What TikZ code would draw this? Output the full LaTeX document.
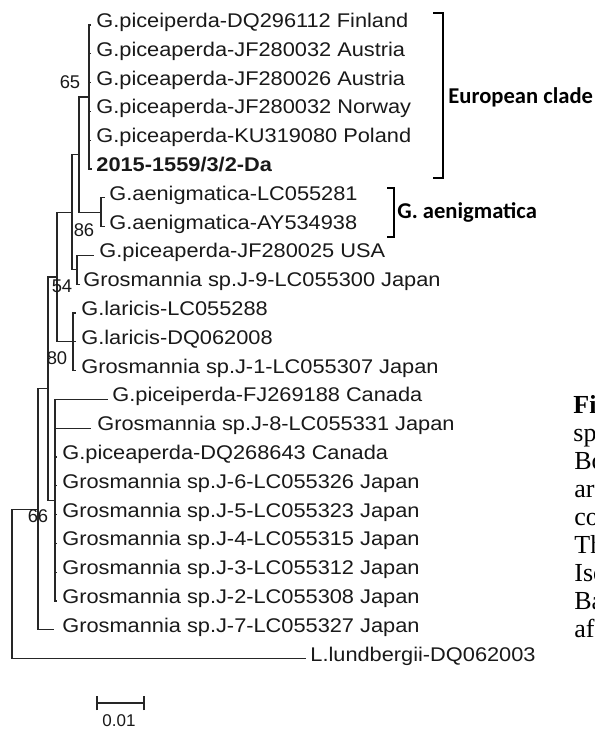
\documentclass[tikz,border=0pt]{standalone}
\usepackage{fontspec}
\newfontfamily\leaffont[FakeStretch=1.1]{Liberation Sans}
\newfontfamily\bootfont{Liberation Sans}
\newfontfamily\cladefont{Carlito}
\newfontfamily\capfont{Liberation Serif}
\begin{document}
\begin{tikzpicture}[x=0.5bp,y=-0.5bp,
  branch/.style={line width=0.65bp, black!85, line cap=rect},
  leaf/.style={anchor=base west, inner sep=0pt, text=black!90, font=\leaffont\fontsize{9.9bp}{12bp}\selectfont},
  boot/.style={inner sep=0pt, text=black!90, font=\bootfont\fontsize{9.2bp}{11bp}\selectfont},
  clade/.style={anchor=west, inner sep=0pt, font=\cladefont\bfseries\fontsize{11.3bp}{13bp}\selectfont},
  capt/.style={anchor=base west, inner sep=0pt, font=\capfont\fontsize{13bp}{15bp}\selectfont},
  bracket/.style={line width=0.65bp, black}]
\useasboundingbox (0,0) rectangle (595,731);
\fill[white] (0,0) rectangle (595,731);

% internal nodes
\coordinate (nR) at (12,584);
\coordinate (nI) at (38,509.2);
\coordinate (nF) at (48,388.6);
\coordinate (nB) at (57,277);
\coordinate (nA) at (72,212.2);
\coordinate (nC) at (79,154.6);
\coordinate (nE) at (89,97);
\coordinate (nG) at (101,212.2);
\coordinate (nD) at (77,269.8);
\coordinate (nL) at (73,341.8);
\coordinate (nH) at (55,500.2);

% leaf tips
\coordinate (t1) at (90,25);
\coordinate (t2) at (90,53.8);
\coordinate (t3) at (90,82.6);
\coordinate (t4) at (90,111.4);
\coordinate (t5) at (90,140.2);
\coordinate (t6) at (91,169);
\coordinate (t7) at (104,197.8);
\coordinate (t8) at (104,226.6);
\coordinate (t9) at (93,255.4);
\coordinate (t10) at (79,284.2);
\coordinate (t11) at (75,313);
\coordinate (t12) at (75,341.8);
\coordinate (t13) at (75,370.6);
\coordinate (t14) at (107,399.4);
\coordinate (t15) at (90,428.2);
\coordinate (t16) at (56,457);
\coordinate (t17) at (56,485.8);
\coordinate (t18) at (56,514.6);
\coordinate (t19) at (56,543.4);
\coordinate (t20) at (56,572.2);
\coordinate (t21) at (56,601);
\coordinate (t22) at (53,629.8);
\coordinate (t23) at (305,658.6);

% leaf labels
\node[leaf] (l1) at (96,27.5) {G.piceiperda-DQ296112 Finland};
\node[leaf] (l2) at (96,56.3) {G.piceaperda-JF280032 Austria};
\node[leaf] (l3) at (96,85.1) {G.piceaperda-JF280026 Austria};
\node[leaf] (l4) at (96,113.9) {G.piceaperda-JF280032 Norway};
\node[leaf] (l5) at (96,142.7) {G.piceaperda-KU319080 Poland};
\node[leaf, font=\leaffont\bfseries\fontsize{9.9bp}{12bp}\selectfont] (l6) at (96,171.5) {2015-1559/3/2-Da};
\node[leaf] (l7) at (109,200.3) {G.aenigmatica-LC055281};
\node[leaf] (l8) at (109,229.1) {G.aenigmatica-AY534938};
\node[leaf] (l9) at (99,257.9) {G.piceaperda-JF280025 USA};
\node[leaf] (l10) at (83,286.7) {Grosmannia sp.J-9-LC055300 Japan};
\node[leaf] (l11) at (81,315.5) {G.laricis-LC055288};
\node[leaf] (l12) at (81,344.3) {G.laricis-DQ062008};
\node[leaf] (l13) at (81,373.1) {Grosmannia sp.J-1-LC055307 Japan};
\node[leaf] (l14) at (112,401.9) {G.piceiperda-FJ269188 Canada};
\node[leaf] (l15) at (97,430.7) {Grosmannia sp.J-8-LC055331 Japan};
\node[leaf] (l16) at (62,459.5) {G.piceaperda-DQ268643 Canada};
\node[leaf] (l17) at (62,488.3) {Grosmannia sp.J-6-LC055326 Japan};
\node[leaf] (l18) at (62,517.1) {Grosmannia sp.J-5-LC055323 Japan};
\node[leaf] (l19) at (62,545.9) {Grosmannia sp.J-4-LC055315 Japan};
\node[leaf] (l20) at (62,574.7) {Grosmannia sp.J-3-LC055312 Japan};
\node[leaf] (l21) at (62,603.5) {Grosmannia sp.J-2-LC055308 Japan};
\node[leaf] (l22) at (62,632.3) {Grosmannia sp.J-7-LC055327 Japan};
\node[leaf] (l23) at (310,661.1) {L.lundbergii-DQ062003};

% branches
\draw[branch] (nE) |- (t1);
\draw[branch] (nE) |- (t2);
\draw[branch] (nE) |- (t3);
\draw[branch] (nE) |- (t4);
\draw[branch] (nE) |- (t5);
\draw[branch] (nE) |- (t6);
\draw[branch] (nG) |- (t7);
\draw[branch] (nG) |- (t8);
\draw[branch] (nC) |- (nE);
\draw[branch] (nC) |- (nG);
\draw[branch] (nD) |- (t9);
\draw[branch] (nD) |- (t10);
\draw[branch] (nA) |- (nC);
\draw[branch] (nA) |- (nD);
\draw[branch] (nL) |- (t11);
\draw[branch] (nL) |- (t12);
\draw[branch] (nL) |- (t13);
\draw[branch] (nB) |- (nA);
\draw[branch] (nB) |- (nL);
\draw[branch] (nH) |- (t14);
\draw[branch] (nH) |- (t15);
\draw[branch] (nH) |- (t16);
\draw[branch] (nH) |- (t17);
\draw[branch] (nH) |- (t18);
\draw[branch] (nH) |- (t19);
\draw[branch] (nH) |- (t20);
\draw[branch] (nH) |- (t21);
\draw[branch] (nF) |- (nB);
\draw[branch] (nF) |- (nH);
\draw[branch] (nI) |- (nF);
\draw[branch] (nI) |- (t22);
\draw[branch] (nR) |- (nI);
\draw[branch] (nR) |- (t23);

% bootstrap values
\node[boot] (b65) at (70,82) {65};
\node[boot] (b86) at (84,230) {86};
\node[boot] (b54) at (62,286) {54};
\node[boot] (b80) at (57,358) {80};
\node[boot] (b66) at (38,516) {66};

% clade brackets
\coordinate (eu1) at (433,13);
\coordinate (eu2) at (443,13);
\coordinate (eu3) at (443,178);
\coordinate (eu4) at (433,178);
\draw[bracket] (eu1) -- (eu2) -- (eu3) -- (eu4);
\node[clade] (eutext) at (448,97) {European clade};
\coordinate (ae1) at (387,188);
\coordinate (ae2) at (394,188);
\coordinate (ae3) at (394,237);
\coordinate (ae4) at (387,237);
\draw[bracket] (ae1) -- (ae2) -- (ae3) -- (ae4);
\node[clade] (aetext) at (397,212) {G. aenigmatica};

% scale bar
\coordinate (s1) at (97,703);
\coordinate (s2) at (144,703);
\draw[branch, line cap=butt] (s1) -- (s2);
\draw[branch, line cap=butt] ([yshift=-3.5bp]s1) -- ([yshift=3.5bp]s1);
\draw[branch, line cap=butt] ([yshift=-3.5bp]s2) -- ([yshift=3.5bp]s2);
\node[boot, font=\bootfont\fontsize{8.5bp}{10bp}\selectfont] (sl) at (119,721) {0.01};

% clipped caption fragments
\begin{scope}
\clip (0,0) rectangle (595,731);
\node[capt, font=\capfont\bfseries\fontsize{13bp}{15bp}\selectfont] (c1) at (573,413) {Fi};
\node[capt] (c2) at (573,441) {sp};
\node[capt] (c3) at (574,469) {Bo};
\node[capt] (c4) at (574,497) {ar};
\node[capt] (c5) at (574,525) {co};
\node[capt] (c6) at (574,553) {Th};
\node[capt] (c7) at (574,581) {Iso};
\node[capt] (c8) at (574,609) {Ba};
\node[capt] (c9) at (574,637) {af};
\end{scope}
\end{tikzpicture}
\end{document}
